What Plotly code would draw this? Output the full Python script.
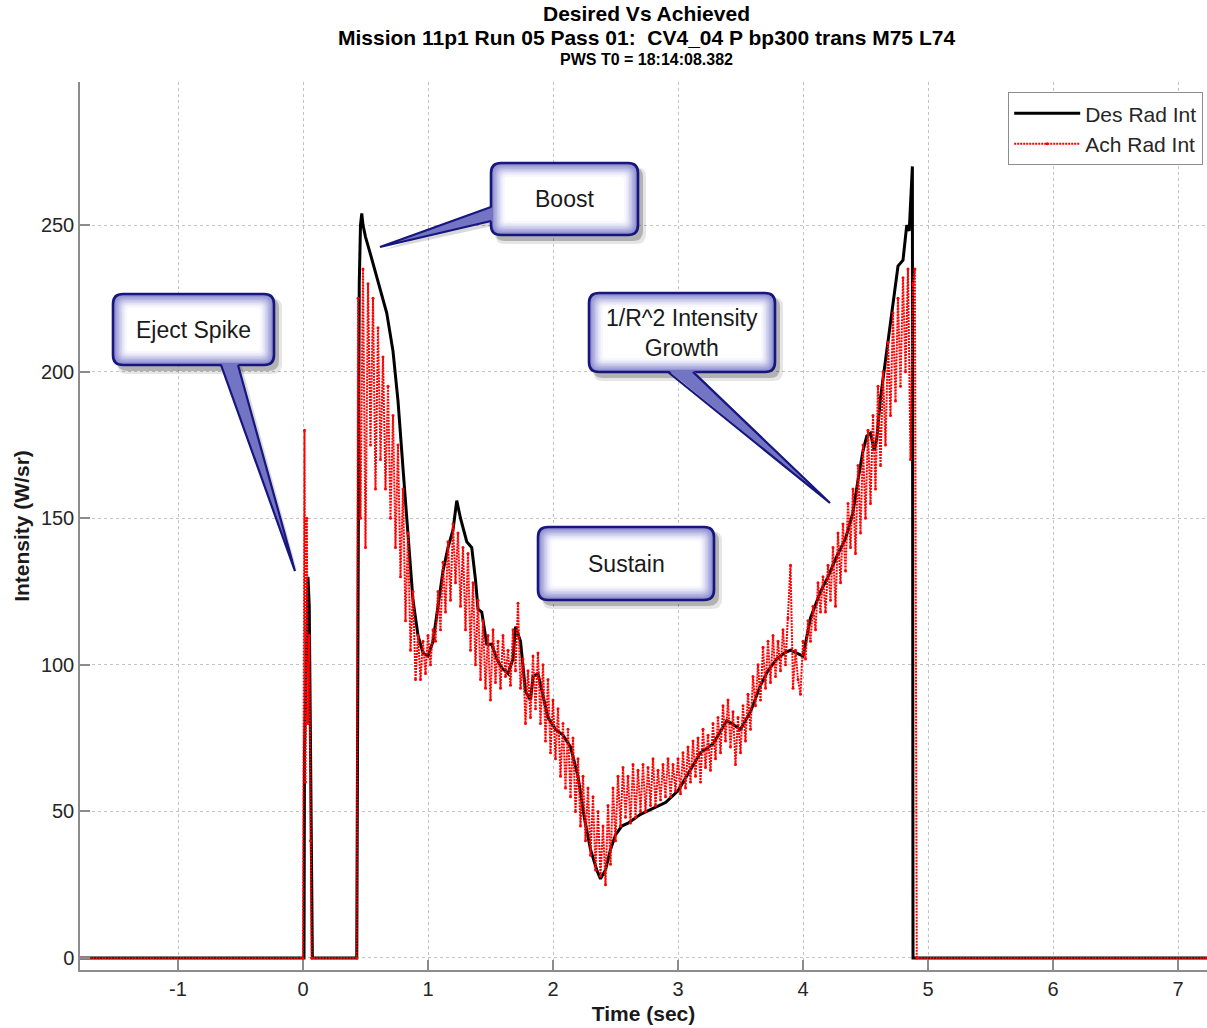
import plotly.graph_objects as go

# ---------------- data ----------------
des_t = [-1.78, 0.008, 0.012, 0.025, 0.04, 0.05, 0.06, 0.075, 0.43, 0.44, 0.45, 0.46, 0.47,
         0.48, 0.50, 0.54, 0.60, 0.67, 0.72, 0.76, 0.80, 0.84, 0.88, 0.92, 0.96, 1.00, 1.04,
         1.08, 1.12, 1.16, 1.20, 1.23, 1.26, 1.31, 1.35, 1.38, 1.40, 1.43, 1.47, 1.51, 1.55,
         1.59, 1.64, 1.68, 1.70, 1.74, 1.78, 1.82, 1.84, 1.88, 1.92, 1.96, 2.02, 2.08, 2.14,
         2.20, 2.25, 2.30, 2.35, 2.38, 2.42, 2.46, 2.50, 2.55, 2.60, 2.70, 2.80, 2.90, 3.00,
         3.10, 3.18, 3.28, 3.39, 3.50, 3.58, 3.66, 3.72, 3.79, 3.85, 3.90, 3.95, 4.00, 4.06,
         4.14, 4.20, 4.27, 4.34, 4.40, 4.44, 4.48, 4.51, 4.54, 4.57, 4.59, 4.62, 4.67, 4.72,
         4.76, 4.80, 4.83, 4.85, 4.87, 4.875, 4.88, 7.23]
des_v = [0, 0, 70, 95, 130, 120, 60, 0, 0, 120, 230, 250, 254,
         250, 246, 240, 231, 220, 207, 190, 167, 145, 122, 110, 104, 103, 108,
         120, 132, 140, 146, 156, 150, 142, 140, 129, 119, 118, 107, 107, 102,
         99, 97, 102, 113, 108, 91, 88, 96, 97, 89, 82, 78, 76, 72,
         62, 48, 37, 30, 27, 30, 37, 42, 45, 46, 49, 51, 53, 57,
         64, 70, 73, 81, 78, 84, 93, 98, 102, 104, 105, 104, 103, 116,
         125, 130, 137, 143, 152, 163, 173, 178, 179, 173, 177, 191, 207, 222,
         236, 238, 250, 248, 268, 270, 0, 0]

ach_t = [-1.78, 0.0, 0.012, 0.02, 0.03, 0.04, 0.05, 0.06, 0.07, 0.43,
         0.44, 0.46, 0.48, 0.50, 0.52, 0.54, 0.56, 0.58, 0.60, 0.62, 0.64, 0.66, 0.68, 0.70,
         0.72, 0.74, 0.76, 0.78, 0.80, 0.82, 0.84, 0.86, 0.88, 0.90, 0.92, 0.94, 0.96, 0.98,
         1.00, 1.02, 1.04, 1.06, 1.08, 1.10, 1.12, 1.14, 1.16, 1.18, 1.20, 1.22, 1.24, 1.26,
         1.28, 1.30, 1.32, 1.34, 1.36, 1.38, 1.40, 1.42, 1.44, 1.46, 1.48, 1.50, 1.52, 1.54,
         1.56, 1.58, 1.60, 1.62, 1.64, 1.66, 1.68, 1.70, 1.72, 1.74, 1.76, 1.78, 1.80, 1.82,
         1.84, 1.86, 1.88, 1.90, 1.92, 1.94, 1.96, 1.98, 2.00, 2.02, 2.04, 2.06, 2.08, 2.10,
         2.12, 2.14, 2.16, 2.18, 2.20, 2.22, 2.24, 2.26, 2.28, 2.30, 2.32, 2.34, 2.36, 2.38,
         2.40, 2.42, 2.44, 2.46, 2.48, 2.50, 2.52, 2.54, 2.56, 2.58, 2.60, 2.62, 2.64, 2.66,
         2.68, 2.70, 2.72, 2.74, 2.76, 2.78, 2.80, 2.82, 2.84, 2.86, 2.88, 2.90, 2.92, 2.94,
         2.96, 2.98, 3.00, 3.02, 3.04, 3.06, 3.08, 3.10, 3.12, 3.14, 3.16, 3.18, 3.20, 3.22,
         3.24, 3.26, 3.28, 3.30, 3.32, 3.34, 3.36, 3.38, 3.40, 3.42, 3.44, 3.46, 3.48, 3.50,
         3.52, 3.54, 3.56, 3.58, 3.60, 3.62, 3.64, 3.66, 3.68, 3.70, 3.72, 3.74, 3.76, 3.78,
         3.80, 3.82, 3.84, 3.86, 3.88, 3.90, 3.92, 3.94, 3.96, 3.98, 4.00, 4.02, 4.04, 4.06,
         4.08, 4.10, 4.12, 4.14, 4.16, 4.18, 4.20, 4.22, 4.24, 4.26, 4.28, 4.30, 4.32, 4.34,
         4.36, 4.38, 4.40, 4.42, 4.44, 4.46, 4.48, 4.50, 4.52, 4.54, 4.56, 4.58, 4.60, 4.62,
         4.64, 4.66, 4.68, 4.70, 4.72, 4.74, 4.76, 4.78, 4.80, 4.82, 4.84, 4.86, 4.88, 4.895,
         4.91, 7.23]
ach_v = [0, 0, 180, 60, 150, 80, 110, 40, 0, 0,
         225, 150, 235, 140, 230, 175, 225, 160, 215, 170, 205, 160, 195, 150,
         185, 140, 175, 130, 160, 115, 145, 105, 125, 95, 110, 95, 108, 97,
         110, 100, 112, 108, 125, 112, 135, 118, 142, 122, 148, 128, 145, 120,
         140, 112, 138, 105, 128, 100, 122, 95, 115, 92, 110, 88, 112, 94,
         108, 92, 110, 96, 105, 93, 112, 98, 121, 92, 102, 80, 98, 82,
         103, 85, 104, 80, 100, 74, 95, 70, 88, 68, 85, 62, 80, 58,
         78, 55, 75, 50, 68, 45, 62, 40, 58, 35, 55, 30, 50, 28,
         45, 25, 52, 32, 58, 40, 62, 45, 65, 48, 62, 46, 66, 48,
         64, 50, 66, 50, 65, 52, 68, 52, 64, 54, 66, 55, 68, 55,
         66, 57, 68, 56, 70, 58, 72, 60, 74, 62, 75, 60, 78, 65,
         76, 64, 80, 68, 82, 70, 86, 74, 88, 72, 84, 66, 82, 70,
         86, 74, 90, 78, 96, 86, 100, 88, 106, 92, 108, 94, 110, 96,
         108, 98, 112, 100, 116, 134, 92, 105, 95, 90, 108, 102, 115, 108,
         120, 112, 128, 118, 130, 118, 134, 122, 140, 120, 145, 128, 148, 132,
         155, 140, 160, 138, 168, 145, 175, 150, 180, 155, 185, 160, 195, 168,
         200, 175, 210, 185, 220, 190, 225, 195, 232, 200, 235, 170, 230, 235,
         0, 0]

x_ticks = [-1, 0, 1, 2, 3, 4, 5, 6, 7]
y_ticks = [0, 50, 100, 150, 200, 250]

title_lines = ["Desired Vs Achieved",
               "Mission 11p1 Run 05 Pass 01:  CV4_04 P bp300 trans M75 L74",
               "PWS T0 = 18:14:08.382"]

# ---------------- layout geometry ----------------
W, H = 1207, 1028
ML, MR, MT, MB = 80, 0, 82, 58
PW, PH = W - ML - MR, H - MT - MB
FONT = "Liberation Sans, Arial, sans-serif"


def pp(px, py):
    return (px - ML) / PW, (H - MB - py) / PH


def rrect(x0, y0, x1, y1, r):
    def P(x, y):
        a, b = pp(x, y)
        return f"{a:.5f},{b:.5f}"
    return (f"M{P(x0 + r, y0)} L{P(x1 - r, y0)} Q{P(x1, y0)} {P(x1, y0 + r)} "
            f"L{P(x1, y1 - r)} Q{P(x1, y1)} {P(x1 - r, y1)} L{P(x0 + r, y1)} "
            f"Q{P(x0, y1)} {P(x0, y1 - r)} L{P(x0, y0 + r)} Q{P(x0, y0)} {P(x0 + r, y0)} Z")


def poly(points, close=True):
    parts = []
    for i, (x, y) in enumerate(points):
        a, b = pp(x, y)
        parts.append(("M" if i == 0 else "L") + f"{a:.5f},{b:.5f}")
    return " ".join(parts) + (" Z" if close else "")


fig = go.Figure()
fig.add_trace(go.Scatter(x=des_t, y=des_v, mode="lines", name="Des Rad Int",
                         line=dict(color="black", width=3)))
fig.add_trace(go.Scatter(x=ach_t, y=ach_v, mode="lines+markers", name="Ach Rad Int",
                         line=dict(color="red", width=2, dash="2px,1px"),
                         marker=dict(color="red", size=3)))

shapes = []
annotations = []

callouts = [
    dict(box=(113, 294, 274, 365), text="Eject Spike", tail=((221, 363), (238, 363), (295, 571)),
         base=((221, 365), (238, 365))),
    dict(box=(491, 163, 638, 235), text="Boost", tail=((493, 207), (493, 221), (380, 247)),
         base=((491, 207), (491, 221))),
    dict(box=(589, 293, 775, 372), text="1/R^2 Intensity<br>Growth",
         tail=((668, 370), (693, 370), (830, 503)), base=((668, 372), (693, 372))),
    dict(box=(538, 527, 714, 600), text="Sustain", tail=None, base=None),
]

layers = [(0, "#8585cd"), (1.5, "#9595d4"), (3, "#a5a5db"), (4.5, "#b5b5e2"), (6, "#c5c5e9"),
          (7.5, "#d4d4f0"), (9, "#e2e2f5"), (10.5, "#eeeefa"), (12, "#f7f7fd"), (14, "#ffffff")]

for c in callouts:
    x0, y0, x1, y1 = c["box"]
    # shadow
    shapes.append(dict(type="path", xref="paper", yref="paper", path=rrect(x0 + 4, y0 + 4, x1 + 8, y1 + 9, 10),
                       fillcolor="rgba(0,0,0,0.10)", line=dict(width=0), layer="above"))
    shapes.append(dict(type="path", xref="paper", yref="paper", path=rrect(x0 + 4, y0 + 4, x1 + 5, y1 + 6, 10),
                       fillcolor="rgba(0,0,0,0.22)", line=dict(width=0), layer="above"))
    if c["tail"]:
        a, b, tip = c["tail"]
        shapes.append(dict(type="path", xref="paper", yref="paper",
                           path=poly([(a[0] + 4, a[1] + 4), (b[0] + 4, b[1] + 4), (tip[0] + 3, tip[1] + 3)]),
                           fillcolor="rgba(0,0,0,0.15)", line=dict(width=0), layer="above"))
    for ins, col in layers:
        r = max(10 - ins * 0.5, 3)
        shapes.append(dict(type="path", xref="paper", yref="paper",
                           path=rrect(x0 + ins, y0 + ins, x1 - ins, y1 - ins, r),
                           fillcolor=col, line=dict(width=0), layer="above"))
    shapes.append(dict(type="path", xref="paper", yref="paper", path=rrect(x0, y0, x1, y1, 10),
                       fillcolor="rgba(0,0,0,0)", line=dict(color="#16167e", width=2.6), layer="above"))
    if c["tail"]:
        a, b, tip = c["tail"]
        ba, bb = c["base"]
        shapes.append(dict(type="path", xref="paper", yref="paper", path=poly([a, b, tip]),
                           fillcolor="#7474c4", line=dict(width=0), layer="above"))
        shapes.append(dict(type="path", xref="paper", yref="paper", path=poly([ba, tip, bb], close=False),
                           line=dict(color="#16167e", width=2.2), layer="above"))
    cx, cy = pp((x0 + x1) / 2, (y0 + y1) / 2)
    annotations.append(dict(x=cx, y=cy, xref="paper", yref="paper", text=c["text"], showarrow=False,
                            font=dict(family=FONT, size=23, color="#1a1a1a"), xanchor="center", yanchor="middle"))

# title lines
title_y = [13, 37, 59]
title_sz = [21, 21, 16]
for txt, ty, sz in zip(title_lines, title_y, title_sz):
    _, yp = pp(0, ty)
    annotations.append(dict(x=(646 - ML) / PW, y=yp, xref="paper", yref="paper", text=f"<b>{txt}</b>",
                            showarrow=False, font=dict(family=FONT, size=sz, color="black"),
                            xanchor="center", yanchor="middle"))

axis_common = dict(showgrid=True, gridcolor="#c4c4c4", griddash="dot", gridwidth=1,
                   showline=True, linecolor="#8c8c8c", linewidth=1.5,
                   ticks="inside", ticklen=10, tickcolor="#8c8c8c", tickwidth=1.5,
                   zeroline=False, tickfont=dict(family=FONT, size=20, color="#262626"))

fig.update_layout(
    width=W, height=H,
    margin=dict(l=ML, r=MR, t=MT, b=MB),
    plot_bgcolor="white", paper_bgcolor="white",
    xaxis=dict(range=[-1.784, 7.232], tickvals=x_ticks, ticktext=[str(v) for v in x_ticks],
               title=dict(text="<b>Time (sec)</b>", font=dict(family=FONT, size=21, color="#1a1a1a"), standoff=8),
               **axis_common),
    yaxis=dict(range=[-4.1, 298.8], tickvals=y_ticks, ticktext=[str(v) for v in y_ticks],
               title=dict(text="<b>Intensity (W/sr)</b>", font=dict(family=FONT, size=21, color="#1a1a1a"), standoff=6),
               **axis_common),
    legend=dict(x=(1203 - ML) / PW, y=pp(0, 92)[1], xanchor="right", yanchor="top",
                bgcolor="white", bordercolor="#8c8c8c", borderwidth=1.2,
                font=dict(family=FONT, size=21, color="#262626"), tracegroupgap=0, itemwidth=66),
    shapes=shapes,
    annotations=annotations,
    showlegend=True,
)

fig.write_html("out.html", config={"displayModeBar": False},
               post_script="document.body.style.margin='0';document.body.style.padding='0';")
